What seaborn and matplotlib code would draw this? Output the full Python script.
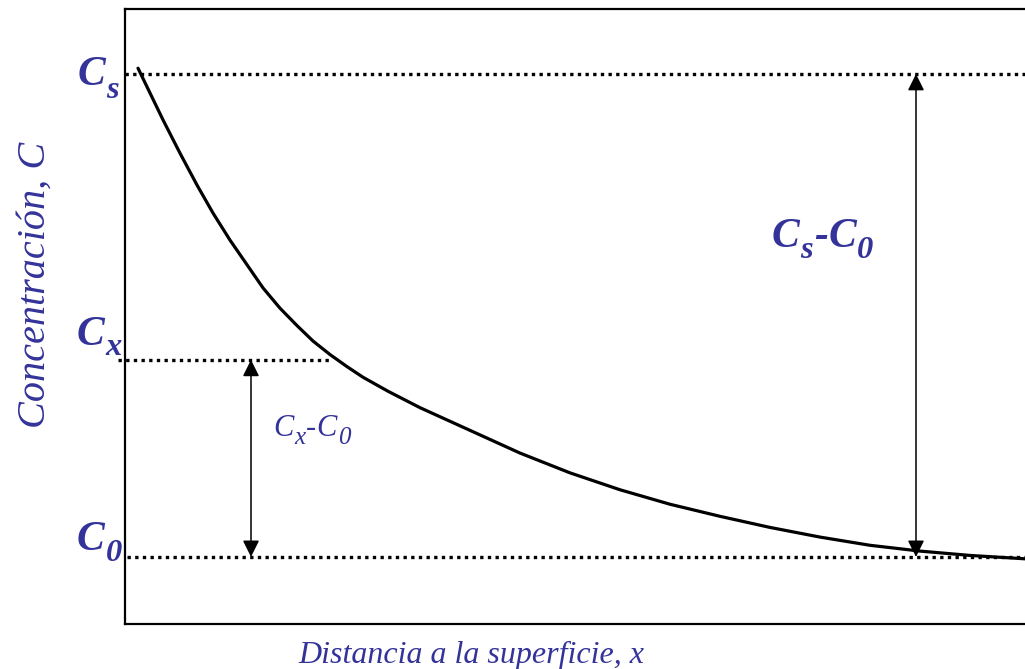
import numpy as np
import pandas as pd
import matplotlib
matplotlib.use("Agg")
import matplotlib.pyplot as plt
import seaborn as sns

# Concentration profile (distance in px from the surface, C normalised: C0=0, Cs=1)
distance = [13, 38, 55, 72, 88, 105, 122, 138, 155, 172, 188, 205, 222, 238,
            263, 295, 345, 395, 445, 495, 545, 595, 645, 695, 745, 795, 845, 900]
concentration = [1.012, 0.905, 0.836, 0.770, 0.712, 0.656, 0.605, 0.557,
                 0.515, 0.479, 0.447, 0.419, 0.394, 0.372, 0.343, 0.309,
                 0.262, 0.215, 0.174, 0.139, 0.109, 0.084, 0.061, 0.041,
                 0.024, 0.012, 0.003, -0.004]

c_s = 1.0
c_x = 0.408
c_0 = 0.0

blue = "#333399"

sns.set_style("white")
plt.rcParams["font.family"] = ["Liberation Serif", "DejaVu Serif"]

df = pd.DataFrame({"x": distance, "C": concentration})

fig = plt.figure(figsize=(10.25, 6.69), dpi=100)
ax = fig.add_axes([125 / 1025, 45 / 669, 900 / 1025, 615 / 669])

sns.lineplot(data=df, x="x", y="C", ax=ax, color="black", linewidth=2.3,
             sort=False, legend=False)

ax.set_xlim(0, 900)
ax.set_ylim(-0.139, 1.1346)

# dotted reference levels
dot = dict(color="black", linewidth=2.4, linestyle=(0, (1, 1.3)),
           dash_capstyle="butt", clip_on=False)
ax.plot([0, 900], [c_s, c_s], **dot)
ax.plot([-7, 205], [c_x, c_x], **dot)
ax.plot([2, 900], [c_0, c_0], **dot)

# double arrows
arr = dict(arrowstyle="<|-|>,head_length=0.5,head_width=0.25", color="black",
           lw=1.1, shrinkA=0, shrinkB=0, mutation_scale=20)
ax.annotate("", xy=(126, c_0), xytext=(126, c_x), arrowprops=arr)
ax.annotate("", xy=(791, c_0), xytext=(791, c_s), arrowprops=arr)


def sub_label(x, y, parts, size, drop, bold=True, ratio=0.78):
    # parts: (text, is_subscript); each piece is chained after the previous one
    kw = dict(color=blue, fontstyle="italic",
              fontweight="bold" if bold else "normal")
    prev = None
    for s, is_sub in parts:
        fs = size * ratio if is_sub else size
        dy = -drop if is_sub else 0
        if prev is None:
            prev = ax.text(x, y, s, fontsize=fs, ha="left", va="baseline", **kw)
        else:
            prev = ax.annotate(s, xy=(1, y), xycoords=(prev, "data"),
                               xytext=(0.5, dy), textcoords="offset points",
                               fontsize=fs, ha="left", va="baseline",
                               annotation_clip=False, **kw)
    return prev


sub_label(-47, 0.977, [("C", False), ("s", True)], 30, 9.5)
sub_label(-48, 0.439, [("C", False), ("x", True)], 30, 7.5)
sub_label(-48, 0.0145, [("C", False), ("0", True)], 30, 8)
sub_label(647, 0.642, [("C", False), ("s", True), ("-", False),
                       ("C", False), ("0", True)], 30, 8)
sub_label(148, 0.2505, [("C", False), ("x", True), ("-", False),
                        ("C", False), ("0", True)], 22, 6, bold=False, ratio=0.82)

fig.text(471 / 1025, 1 - 655 / 669, "Distancia a la superficie, x", color=blue,
         fontsize=23, fontstyle="italic", ha="center", va="center")
fig.text(35 / 1025, 1 - 285 / 669, "Concentración, C", color=blue,
         fontsize=29, fontstyle="italic", ha="center", va="center", rotation=90)

ax.set_xticks([])
ax.set_yticks([])
ax.set_xlabel("")
ax.set_ylabel("")
ax.spines["right"].set_visible(False)
for s in ["left", "top", "bottom"]:
    ax.spines[s].set_linewidth(1.6)
    ax.spines[s].set_color("black")

fig.savefig("out.png", dpi=100)
